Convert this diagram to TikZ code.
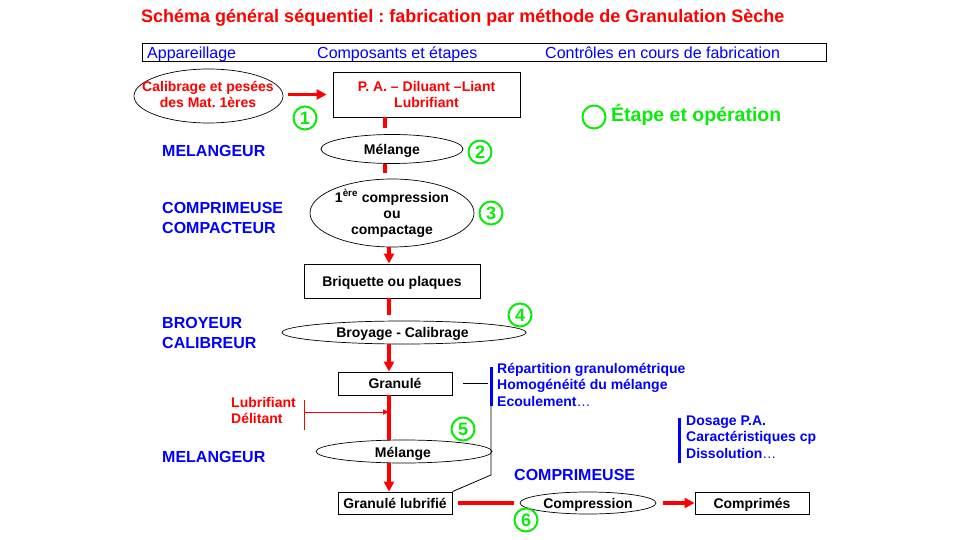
\documentclass[tikz,border=0pt]{standalone}
\usepackage{fontspec}
\setmainfont{Liberation Sans}
\usetikzlibrary{shapes.geometric,arrows.meta,calc}
\definecolor{myred}{RGB}{255,0,0}
\definecolor{myblue}{RGB}{0,0,255}
\definecolor{mygreen}{RGB}{10,235,10}
\newcommand\fsz[2]{\fontsize{#1}{#2}\selectfont}
\frenchspacing
\tikzset{
  boxnode/.style={draw, line width=0.9pt, inner sep=0pt, font=\fsz{14}{16}\bfseries, align=center},
  ellnode/.style={draw, ellipse, line width=0.7pt, inner sep=0pt},
  txtnode/.style={inner sep=0pt, font=\fsz{14}{16}\bfseries, align=center},
  oneline/.style={text height=10pt, text depth=0pt},
  numnode/.style={circle, draw=mygreen, line width=2pt, minimum size=23pt, inner sep=0pt, text=mygreen, font=\fsz{18}{18}\bfseries, text height=13pt, text depth=0pt},
  redarr/.style={myred, line width=3.2pt, -{Triangle[length=10pt,width=10pt]}},
  redln/.style={myred, line width=3.2pt},
  applabel/.style={text=myblue, font=\fsz{16}{20}\bfseries, anchor=west, inner sep=0pt, align=left},
  ctllabel/.style={text=myblue, font=\fsz{14}{16.5}\bfseries, anchor=west, inner sep=0pt, align=left},
  hdrlabel/.style={text=myblue, font=\fsz{16}{16}, anchor=west, inner sep=0pt, text height=11.5pt, text depth=0pt},
}
\begin{document}
\frenchspacing
\begin{tikzpicture}[x=1pt,y=-1pt]
\useasboundingbox (0,0) rectangle (960,540);
% title
\node[anchor=west, inner sep=0pt, text=myred, font=\fsz{18}{18}\bfseries, text height=13pt, text depth=0pt] (title) at (141,16) {Schéma général séquentiel : fabrication par méthode de Granulation Sèche};
% header
\node[draw, line width=0.9pt, minimum width=684pt, minimum height=18pt, inner sep=0pt] (hdr) at (484,52) {};
\node[hdrlabel] (h1) at (147,52.5) {Appareillage};
\node[hdrlabel] (h2) at (317,52.5) {Composants et étapes};
\node[hdrlabel] (h3) at (545,52.5) {Contrôles en cours de fabrication};
% legend
\node[numnode] (leg) at (594,117) {};
\node[anchor=west, inner sep=0pt, text=mygreen, font=\fsz{19.5}{19.5}\bfseries, text height=14pt, text depth=0pt] (legt) at (611,115) {Étape et opération};
% column coordinates
\coordinate (colA) at (385,0);
\coordinate (col) at (389,0);
% step 1
\node[ellnode, minimum width=149pt, minimum height=54pt] (cal) at (208.5,96) {};
\node[txtnode, text=myred] (calt) at (208,94) {Calibrage et pesées\\des Mat. 1ères};
\node[boxnode, minimum width=187pt, minimum height=45pt, text=myred] (pa) at (426.5,94.5) {P. A. – Diluant –Liant\\Lubrifiant};
\draw[redarr, shorten <=5pt, shorten >=6pt] (cal.east |- pa.west) -- (pa.west);
\node[numnode] (n1) at (305,118) {1};
% step 2
\node[ellnode, minimum width=142pt, minimum height=29pt] (m1) at (392,149) {};
\node[txtnode, oneline] (m1t) at (392,149.5) {Mélange};
\node[numnode] (n2) at (480,152) {2};
\coordinate (sA) at (385,128);
\coordinate (sB) at (385,173);
\draw[redln] (pa.south -| colA) -- (sA);
\draw[redln] (m1.south -| colA) -- (sB);
\node[applabel] (ap1) at (162,151) {MELANGEUR};
% step 3
\node[ellnode, minimum width=164pt, minimum height=68pt] (c1) at (392,213) {};
\node[txtnode] (c1t) at (392,213.5) {1\textsuperscript{ère} compression\\ou\\compactage};
\node[numnode] (n3) at (491,213) {3};
\node[applabel] (ap2) at (162,217.5) {COMPRIMEUSE\\COMPACTEUR};
\node[boxnode, oneline, minimum width=176pt, minimum height=34pt] (briq) at (392,281) {Briquette ou plaques};
\draw[redarr] (c1.south -| col) -- (briq.north -| col);
\coordinate (sC) at (389,315);
\draw[redln] (briq.south -| col) -- (sC);
% step 4
\node[ellnode, minimum width=244pt, minimum height=23pt] (broy) at (404,332.5) {};
\node[txtnode, oneline] (broyt) at (402.5,332.5) {Broyage - Calibrage};
\node[numnode] (n4) at (520,315) {4};
\node[applabel] (ap3) at (162,333) {BROYEUR\\CALIBREUR};
\node[boxnode, oneline, minimum width=114pt, minimum height=23pt] (gran) at (395,383.5) {Granulé};
\draw[redarr] (broy.south -| col) -- (gran.north -| col);
% controls 1
\coordinate (b1t) at (491,367);
\coordinate (b1b) at (491,406);
\draw[myblue, line width=3pt] (b1t) -- (b1b);
\node[ctllabel] (ct1) at (497,384.5) {Répartition granulométrique\\Homogénéité du mélange\\Ecoulement{\mdseries …}};
\draw[line width=0.8pt] ([xshift=11pt]gran.east) -- ([xshift=-3pt]gran.east -| b1t);
% step 5
\node[ellnode, minimum width=176pt, minimum height=23pt] (m2) at (404,451.5) {};
\node[txtnode, oneline] (m2t) at (403,452) {Mélange};
\node[numnode] (n5) at (463,429) {5};
\node[applabel] (ap4) at (162,457) {MELANGEUR};
\draw[redln] (gran.south -| col) -- (m2.north -| col);
\node[txtnode, text=myred, align=left, anchor=west] (lub) at (231,410) {Lubrifiant\\Délitant};
\coordinate (lb1) at (304,400);
\coordinate (lb2) at (304,430);
\coordinate (lbm) at (304,412);
\draw[myred, line width=0.8pt] (lb1) -- (lb2);
\draw[myred, line width=0.8pt, -{Triangle[length=6pt,width=5pt]}] (lbm) -- (lbm -| col);
\node[boxnode, oneline, minimum width=114pt, minimum height=22pt] (glub) at (395,503) {Granulé lubrifié};
\draw[redarr] (m2.south -| col) -- (glub.north -| col);
\coordinate (kink) at (491,475);
\draw[line width=0.8pt] (b1b) -- (kink) -- (glub.north east);
% step 6
\node[ellnode, minimum width=136pt, minimum height=22pt] (cmp) at (588,503) {};
\node[txtnode, oneline] (cmpt) at (588,503) {Compression};
\node[numnode] (n6) at (526,520) {6};
\node[applabel] (ap5) at (514,475) {COMPRIMEUSE};
\node[boxnode, oneline, minimum width=114pt, minimum height=22pt] (cpr) at (752,503) {Comprimés};
\draw[redln] ([xshift=6pt]glub.east) -- ([xshift=-6pt]cmp.west);
\draw[redarr, shorten <=7pt] (cmp.east) -- (cpr.west);
% controls 2
\coordinate (b2t) at (679,418);
\coordinate (b2b) at (679,463);
\draw[myblue, line width=3pt] (b2t) -- (b2b);
\node[ctllabel] (ct2) at (686,437) {Dosage P.A.\\Caractéristiques cp\\Dissolution{\mdseries …}};
\end{tikzpicture}
\end{document}
